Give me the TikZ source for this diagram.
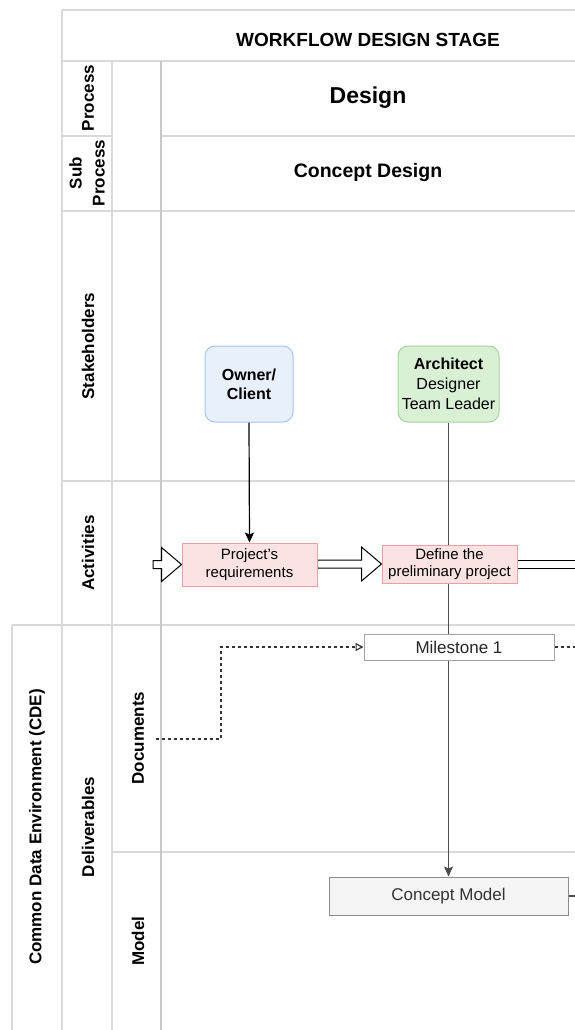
\documentclass[tikz,border=0pt]{standalone}
\usepackage{fontspec}
\setmainfont{Liberation Sans}
\usetikzlibrary{arrows.meta,calc}

\definecolor{gridline}{HTML}{D9D9D9}
\definecolor{gridstrong}{HTML}{C8C8C8}
\definecolor{ownerfill}{HTML}{E8F0FC}
\definecolor{ownerdraw}{HTML}{A9C4EB}
\definecolor{archfill}{HTML}{D9F0D5}
\definecolor{archdraw}{HTML}{A3D49A}
\definecolor{actfill}{HTML}{FBE3E3}
\definecolor{actdraw}{HTML}{E8A0A0}
\definecolor{modelfill}{HTML}{F5F5F5}
\definecolor{modeldraw}{HTML}{8C8C8C}
\definecolor{darkline}{HTML}{4D4D4D}
\definecolor{dashline}{HTML}{333333}
\definecolor{textgray}{HTML}{333333}

\pgfdeclarelayer{bg}
\pgfsetlayers{bg,main}

\newcommand{\fs}[2]{\fontsize{#1}{#2}\selectfont}
\newcommand{\apos}{{\char"27}}

\tikzset{
  grid/.style={draw=gridline, line width=1.5pt},
  gridthick/.style={draw=gridstrong, line width=2pt},
  sidelabel/.style={rotate=90, font=\fs{17}{21}\bfseries, align=center, inner sep=0pt},
  headtext/.style={font=\bfseries, inner sep=0pt},
  actor/.style={rounded corners=10pt, line width=1pt, align=center, inner sep=0pt},
  ownerbox/.style={actor, fill=ownerfill, draw=ownerdraw, minimum width=88pt, minimum height=76pt, font=\fs{16}{19}\bfseries},
  archbox/.style={actor, fill=archfill, draw=archdraw, minimum width=101pt, minimum height=76pt, font=\fs{16}{20}},
  activity/.style={fill=actfill, draw=actdraw, line width=1pt, align=center, inner sep=0pt, minimum width=135pt, font=\fs{15}{17.5}},
  milestone/.style={fill=white, draw=modeldraw!80, line width=1pt, inner sep=0pt, minimum width=190pt, minimum height=26pt, font=\fs{17}{20}, text=black!85},
  modelbox/.style={fill=modelfill, draw=modeldraw, line width=1pt, inner sep=0pt, minimum width=239pt, minimum height=38pt, font=\fs{17}{20}, text=textgray},
  flow/.style={line width=1.2pt},
  bigarrow/.style={draw=black, fill=white, line width=1pt, line join=miter},
  dashflow/.style={draw=dashline, line width=1.2pt, dash pattern=on 3pt off 3pt},
}

% hollow block arrow from the x of #1 to the tip #2, centred on the tip's height
\newcommand{\blockarrow}[2]{%
  \path[bigarrow] let \p1=(#1), \p2=(#2) in
    (\x1,{\y2+4pt}) -- ({\x2-20pt},{\y2+4pt}) -- ({\x2-20pt},{\y2+17pt}) -- (\x2,\y2)
    -- ({\x2-20pt},{\y2-17pt}) -- ({\x2-20pt},{\y2-4pt}) -- (\x1,{\y2-4pt}) -- cycle;}

\begin{document}
\begin{tikzpicture}[x=1pt,y=-1pt]
\useasboundingbox (0,0) rectangle (575,1030);
\clip (0,0) rectangle (575,1030);

% ---------- nodes ----------
\node[headtext, font=\fs{19}{22}\bfseries] (title) at (368,40) {WORKFLOW DESIGN STAGE};
\node[headtext, font=\fs{23}{26}\bfseries] (design) at (368,98) {Design};
\node[headtext, font=\fs{19.5}{22}\bfseries] (concept) at (368,173) {Concept Design};

\node[sidelabel] (lproc) at (88,98) {Process};
\node[sidelabel, font=\fs{17}{23}\bfseries] (lsub) at (87,173) {Sub\\Process};
\node[sidelabel] (lstake) at (88,346) {Stakeholders};
\node[sidelabel] (lact) at (88,553) {Activities};
\node[sidelabel] (lcde) at (37,827) {Common Data Environment (CDE)};
\node[sidelabel] (ldel) at (88,827) {Deliverables};
\node[sidelabel] (ldoc) at (138,738) {Documents};
\node[sidelabel] (lmod) at (138,941) {Model};

\node[ownerbox] (owner) at (249,384) {Owner/\\Client};
\node[archbox] (arch) at (448.5,384) {\textbf{Architect}\\Designer\\Team Leader};

\node[activity, minimum height=43pt] (req) at (249.5,564.5) {Project\apos s\\requirements};
\node[activity, minimum height=38pt] (prelim) at (449.5,564) {Define the\\preliminary project};

\node[milestone] (ms) at (459,647) {Milestone 1};
\node[modelbox] (cm) at (448.5,896) {Concept Model};

\coordinate (prevstage) at (153,564);
\coordinate (nextstage) at (600,564);
\coordinate (docsrc) at (156,739);
\coordinate (msnext) at (600,647);
\coordinate (cmnext) at (600,896);

% ---------- grid and connectors behind the boxes ----------
\begin{pgfonlayer}{bg}
  \draw[grid] (62,10) -- (575,10);
  \draw[grid] (62,61) -- (575,61);
  \draw[grid] (62,136) -- (112,136);
  \draw[grid] (161,136) -- (575,136);
  \draw[grid] (62,211) -- (575,211);
  \draw[grid] (62,481) -- (575,481);
  \draw[grid] (12,625) -- (575,625);
  \draw[grid] (112,852) -- (575,852);
  \draw[grid] (62,10) -- (62,1030);
  \draw[grid] (12,625) -- (12,1030);
  \draw[grid] (112,61) -- (112,1030);
  \draw[gridthick] (161,61) -- (161,1030);

  % architect responsibility line down to the model
  \draw[flow, darkline, -{Stealth[length=10pt,width=9pt,inset=2pt]}] (arch.south) -- (cm.north);
  % document flow
  \draw[dashflow, -{Triangle[open,length=8pt,width=8pt]}] (docsrc) -- (docsrc -| 221,0) |- (ms.west);
  \draw[dashflow] (ms.east) -- (msnext);
  \draw[flow, darkline] (cm.east) -- (cmnext);
\end{pgfonlayer}

% owner feeds the requirements
\draw[flow, -{Stealth[length=10pt,width=9pt,inset=2pt]}] (owner.south) -- (req.north);

% activity sequence
\blockarrow{prevstage}{req.west}
\blockarrow{req.east}{prelim.west}
\path[bigarrow] let \p1=(prelim.east), \p2=(nextstage) in
  (\x1,{\y2+4pt}) -- (\x2,{\y2+4pt}) -- (\x2,{\y2-4pt}) -- (\x1,{\y2-4pt}) -- cycle;

% redraw the boxes so they sit above the activity arrows
\node[activity, minimum height=43pt] at (req) {Project\apos s\\requirements};
\node[activity, minimum height=38pt] at (prelim) {Define the\\preliminary project};
\end{tikzpicture}
\end{document}
